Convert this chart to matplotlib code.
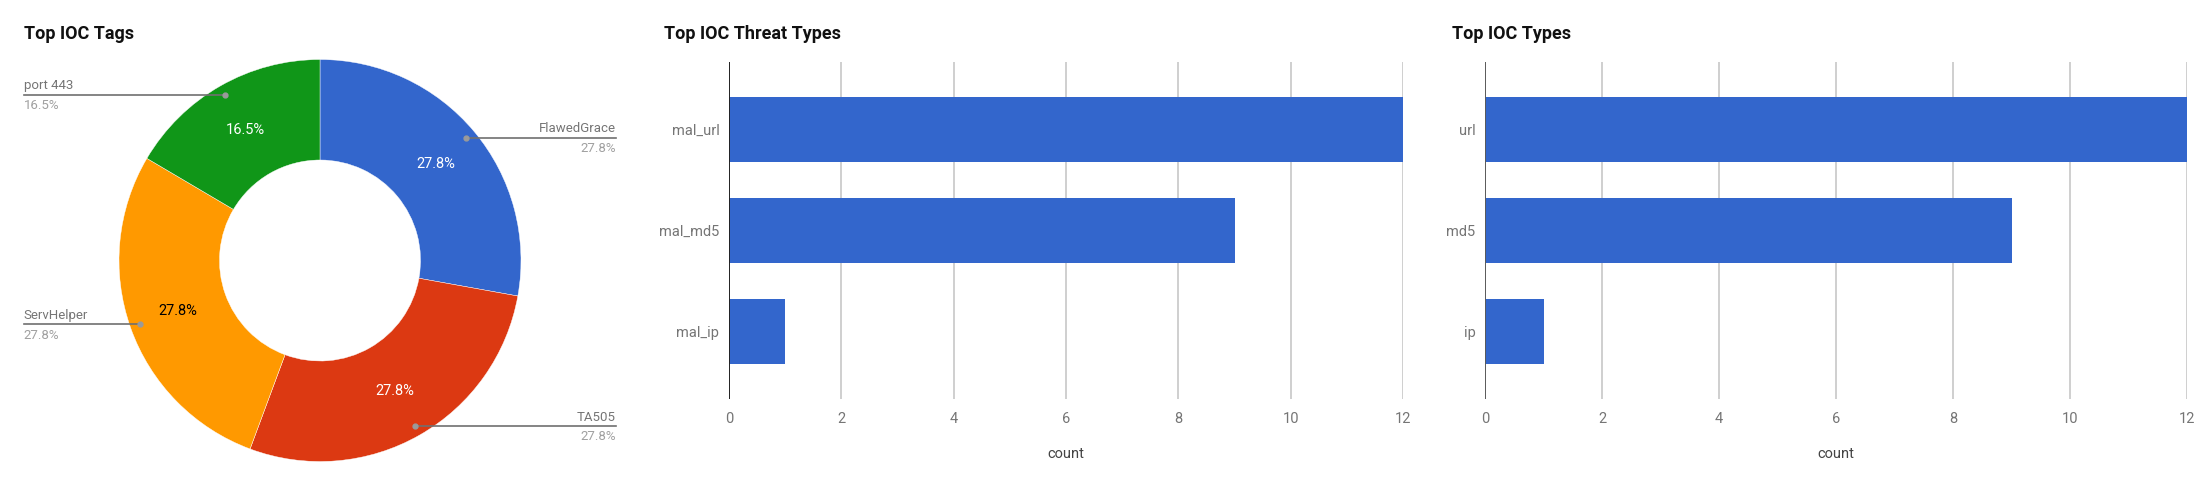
import numpy as np
import matplotlib.pyplot as plt

plt.rcParams['font.family'] = ['Roboto', 'DejaVu Sans']

# donut data
tag_names = ["FlawedGrace", "TA505", "ServHelper", "port 443"]
tag_share = [27.8, 27.8, 27.8, 16.5]
tag_colors = ["#3366cc", "#dc3912", "#ff9900", "#109618"]

# bar data
threat_types = ["mal_url", "mal_md5", "mal_ip"]
threat_counts = [12, 9, 1]
ioc_types = ["url", "md5", "ip"]
ioc_counts = [12, 9, 1]
x_ticks = [0, 2, 4, 6, 8, 10, 12]

W, H = 2212, 486
fig = plt.figure(figsize=(W / 100, H / 100), dpi=100)


def px_box(x0, y0, x1, y1):
    return [x0 / W, 1 - y1 / H, (x1 - x0) / W, (y1 - y0) / H]


# ---- donut ----
ax = fig.add_axes(px_box(119, 59.5, 521, 461.5))
wedges, texts, autotexts = ax.pie(
    tag_share, colors=tag_colors, startangle=90, counterclock=False,
    radius=1, autopct='%1.1f%%', pctdistance=0.75,
    wedgeprops=dict(width=0.5, edgecolor='white', linewidth=0.3),
    textprops=dict(color='white', fontsize=10.5))
autotexts[2].set_color('black')
ax.set_xlim(-1, 1)
ax.set_ylim(-1, 1)

total = sum(tag_share)
edge_x = 1.473
cum = 0
for name, share in zip(tag_names, tag_share):
    mid = (cum + share / 2) / total * 2 * np.pi
    cum += share
    dx, dy = 0.95 * np.sin(mid), 0.95 * np.cos(mid)
    tx = edge_x if dx > 0 else -edge_x
    ha = 'right' if dx > 0 else 'left'
    ax.plot([dx, tx], [dy, dy], color='#707070', lw=1.2, clip_on=False, zorder=5)
    ax.plot([dx], [dy], 'o', color='#9a9a9a', ms=3.5, clip_on=False, zorder=6)
    ax.annotate(name, xy=(tx, dy), xytext=(0, 2), textcoords='offset points',
                ha=ha, va='bottom', fontsize=9.5, color='#757575', annotation_clip=False)
    ax.annotate(f"{share}%", xy=(tx, dy), xytext=(0, -3), textcoords='offset points',
                ha=ha, va='top', fontsize=9.5, color='#a0a0a0', annotation_clip=False)

fig.text(24 / W, 1 - 34 / H, "Top IOC Tags", fontsize=13, fontweight='bold',
         color='#111111', va='center', ha='left')


# ---- bars ----
def bar_panel(box, cats, vals, title, title_x, axis_color):
    bx = fig.add_axes(px_box(*box))
    y = np.arange(len(cats))
    bx.barh(y, vals, height=0.64, color='#3366cc', zorder=3)
    bx.set_xlim(0, 12)
    bx.set_ylim(2.67, -0.67)
    bx.set_yticks(y)
    bx.set_yticklabels(cats)
    bx.set_xticks(x_ticks)
    bx.tick_params(axis='both', length=0, labelsize=10.5, labelcolor='#757575')
    bx.tick_params(axis='x', pad=9)
    bx.tick_params(axis='y', pad=7)
    bx.grid(axis='x', color='#cccccc', lw=1.3, zorder=0)
    for s in bx.spines.values():
        s.set_visible(False)
    bx.axvline(0, color=axis_color, lw=1.4, zorder=4)
    bx.text(0.5, -0.163, "count", transform=bx.transAxes, ha='center', va='center',
            fontsize=10.5, color='#444444')
    fig.text(title_x / W, 1 - 34 / H, title, fontsize=13, fontweight='bold',
             color='#111111', va='center', ha='left')
    return bx


bar_panel((729, 62, 1403, 399), threat_types, threat_counts, "Top IOC Threat Types", 664, '#222222')
bar_panel((1485, 62, 2187, 399), ioc_types, ioc_counts, "Top IOC Types", 1452, '#5a5a5a')

fig.savefig("out.png", dpi=100, facecolor='white')
